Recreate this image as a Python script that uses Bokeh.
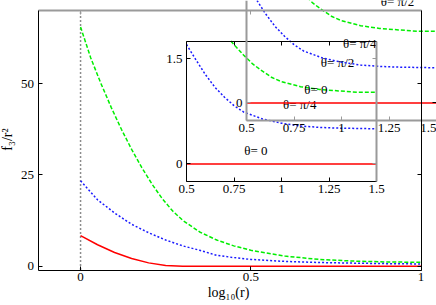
import math
from bokeh.plotting import figure
from bokeh.models import LinearAxis, Range1d, FixedTicker, CustomJSTickFormatter, Label
from bokeh.core.properties import value
from bokeh.embed import file_html
from bokeh.resources import INLINE

# ---------------- data ----------------
# main panel: f3/r^2 against log10(r)
main_green_x = [0.00, 0.03, 0.06, 0.09, 0.12, 0.15, 0.18, 0.21, 0.24, 0.27, 0.30,
                0.35, 0.40, 0.45, 0.50, 0.60, 0.70, 0.80, 0.90, 1.00]
main_green_y = [65.5, 57.0, 50.0, 43.5, 37.5, 32.0, 27.0, 22.5, 18.5, 15.2, 12.6,
                9.4, 7.2, 5.6, 4.4, 2.8, 1.9, 1.45, 1.2, 1.1]
main_blue_x = [0.00, 0.05, 0.10, 0.15, 0.20, 0.25, 0.30, 0.35, 0.40, 0.45, 0.50,
               0.60, 0.70, 0.80, 0.90, 1.00]
main_blue_y = [23.4, 18.2, 14.6, 11.5, 9.2, 7.2, 5.6, 4.4, 3.0, 2.4, 1.9,
               1.35, 1.05, 0.88, 0.74, 0.65]
main_red_x = [0.00, 0.05, 0.10, 0.15, 0.20, 0.25, 0.30, 0.50, 0.75, 1.00]
main_red_y = [8.4, 5.9, 3.8, 2.15, 0.95, 0.25, 0.0, 0.0, 0.0, 0.0]

# inset: zoom on log10(r) from 0.5 to 1.5
inset_blue_x = [0.50, 0.55, 0.60, 0.65, 0.70, 0.75, 0.80, 0.90, 1.00, 1.10, 1.20, 1.30, 1.40, 1.50]
inset_blue_y = [1.70, 1.48, 1.27, 1.09, 0.95, 0.83, 0.74, 0.64, 0.58, 0.54, 0.52, 0.51, 0.505, 0.50]
inset_green_x = [0.733, 0.80, 0.85, 0.90, 0.95, 1.00, 1.10, 1.20, 1.30, 1.40, 1.50]
inset_green_y = [1.75, 1.55, 1.42, 1.32, 1.23, 1.17, 1.10, 1.06, 1.04, 1.02, 1.02]
inset_red_x = [0.50, 1.00, 1.50]
inset_red_y = [0.0, 0.0, 0.0]

inset_label_x = [1.295, 1.096, 0.865]
inset_label_y = [1.44, 0.846, 0.19]
inset_label_text = ["θ= π/2", "θ= π/4", "θ= 0"]

main_x_ticks = [0, 0.5, 1]
main_y_ticks = [0, 25, 50]
inset_x_ticks = [0.5, 0.75, 1, 1.25, 1.5]
inset_y_ticks = [0, 1.5]

x_title = "log₁₀(r)"
y_title = "f₃/r²"

# ---------------- layout (pixels on the 436x305 canvas) ----------------
W, H = 436, 305
MAIN_XLIM = (-0.125, 1.0)
MAIN_YLIM = (-1.0, 70.0)
MAIN_BOX = (37.5, 420.5, 10.0, 269.5)      # left, right, top, bottom
INSET_XLIM = (0.5, 1.5)
INSET_YLIM = (-0.25, 1.75)
INSET_A_BOX = (186.0, 376.0, 40.5, 181.0)
INSET_B_BOX = (246.0, 436.0, -20.5, 120.0)
X_TITLE_POS = (228.0, 292.0)   # centre of the x title, canvas px
Y_TITLE_POS = (7.0, 139.0)     # centre of the y title, canvas px

FONT = "Liberation Serif"
FS = "13px"
GRAY_EDGE = dict(axis_line_color="#9a9a9a", axis_line_width=2, major_tick_line_color="#9a9a9a")


def xrange_for(lim, box):
    l, r = box[0], box[1]
    s = (lim[1] - lim[0]) / (r - l)
    return Range1d(lim[0] - l * s, lim[0] + (W - l) * s)


def yrange_for(lim, box):
    t, b = box[2], box[3]
    s = (lim[1] - lim[0]) / (b - t)
    return Range1d(lim[0] - (H - b) * s, lim[1] + t * s)


main_xr = xrange_for(MAIN_XLIM, MAIN_BOX)
main_yr = yrange_for(MAIN_YLIM, MAIN_BOX)


def px_to_main(px, py):
    x = main_xr.start + px * (main_xr.end - main_xr.start) / W
    y = main_yr.end - py * (main_yr.end - main_yr.start) / H
    return x, y


p = figure(width=W, height=H, x_range=main_xr, y_range=main_yr,
           x_axis_type=None, y_axis_type=None,
           output_backend="svg", toolbar_location=None, min_border=0)
p.outline_line_color = None
p.background_fill_color = "white"
p.border_fill_color = "white"

p.extra_x_ranges = {"ax": xrange_for(INSET_XLIM, INSET_A_BOX),
                    "bx": xrange_for(INSET_XLIM, INSET_B_BOX)}
p.extra_y_ranges = {"ay": yrange_for(INSET_YLIM, INSET_A_BOX),
                    "by": yrange_for(INSET_YLIM, INSET_B_BOX)}

num_fmt = CustomJSTickFormatter(code="return tick.toString()")
no_fmt = CustomJSTickFormatter(code="return ''")


def frame_axes(xr, yr, xlim, ylim, xticks, yticks, gray=()):
    def common(side):
        d = dict(x_range_name=xr, y_range_name=yr,
                 axis_line_color="black", axis_line_width=1,
                 major_tick_in=4, major_tick_out=0,
                 major_tick_line_color="black",
                 minor_tick_line_color=None,
                 major_label_text_font=FONT,
                 major_label_text_font_size=FS,
                 major_label_text_color="black")
        if side in gray:
            d.update(GRAY_EDGE)
        return d
    below = LinearAxis(fixed_location=ylim[0], bounds=xlim,
                       ticker=FixedTicker(ticks=xticks), formatter=num_fmt,
                       major_label_standoff=3, **common("below"))
    left = LinearAxis(fixed_location=xlim[0], bounds=ylim,
                      ticker=FixedTicker(ticks=yticks), formatter=num_fmt,
                      major_label_standoff=4, **common("left"))
    above = LinearAxis(fixed_location=ylim[1], bounds=xlim,
                       ticker=FixedTicker(ticks=xticks), formatter=no_fmt, **common("above"))
    right = LinearAxis(fixed_location=xlim[1], bounds=ylim,
                       ticker=FixedTicker(ticks=yticks), formatter=no_fmt, **common("right"))
    p.add_layout(below, "below")
    p.add_layout(left, "left")
    p.add_layout(above, "above")
    p.add_layout(right, "right")


# main panel
p.segment(x0=[0], y0=[MAIN_YLIM[0]], x1=[0], y1=[MAIN_YLIM[1]],
          line_color="#8c8c8c", line_width=1.5, line_dash="2 2")
p.line(main_green_x, main_green_y, line_color="#00ee00", line_width=1.5, line_dash="4 2")
p.line(main_blue_x, main_blue_y, line_color="#1a1aff", line_width=1.5, line_dash="2 2")
p.line(main_red_x, main_red_y, line_color="#ff0000", line_width=1.5)
frame_axes("default", "default", MAIN_XLIM, MAIN_YLIM, main_x_ticks, main_y_ticks,
           gray=("above",))

tx, ty = px_to_main(*X_TITLE_POS)
p.add_layout(Label(x=tx, y=ty, text=x_title, text_font=FONT, text_font_size="14px",
                   text_color="black", text_align="center", text_baseline="middle"))
tx, ty = px_to_main(*Y_TITLE_POS)
p.add_layout(Label(x=tx, y=ty, text=y_title, text_font=FONT, text_font_size="14px",
                   text_color="black", text_align="center", text_baseline="middle",
                   angle=math.pi / 2))

# the two copies of the inset
for xr, yr, gray in (("ax", "ay", ("right",)), ("bx", "by", ("left", "below"))):
    p.line(inset_green_x, inset_green_y, x_range_name=xr, y_range_name=yr,
           line_color="#00ee00", line_width=1.5, line_dash="4 2")
    p.line(inset_blue_x, inset_blue_y, x_range_name=xr, y_range_name=yr,
           line_color="#1a1aff", line_width=1.5, line_dash="2 2")
    p.line(inset_red_x, inset_red_y, x_range_name=xr, y_range_name=yr,
           line_color="#ff0000", line_width=1.5)
    p.text(x=inset_label_x, y=inset_label_y, text=inset_label_text,
           x_range_name=xr, y_range_name=yr,
           text_font=value(FONT), text_font_size=FS, text_color="black",
           text_align="center", text_baseline="middle")
    frame_axes(xr, yr, INSET_XLIM, INSET_YLIM, inset_x_ticks, inset_y_ticks, gray=gray)

open("out.html", "w").write(file_html(p, INLINE))
